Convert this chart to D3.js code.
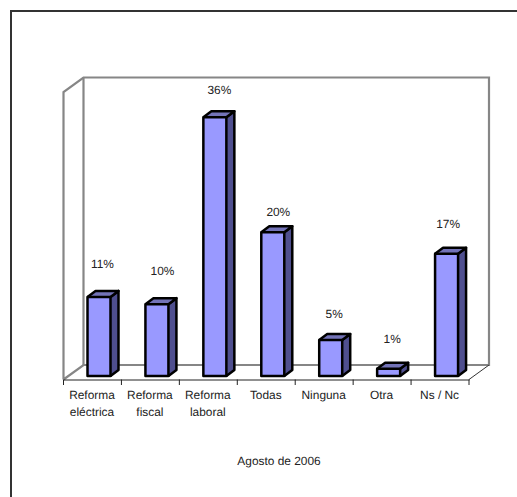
<!DOCTYPE html>
<html>
<head>
<meta charset="utf-8">
<script src="https://cdn.jsdelivr.net/npm/d3@7"></script>
<style>
  html, body { margin: 0; padding: 0; background: #fff; overflow: hidden; }
  svg { display: block; }
  text { font-family: "Liberation Sans", Arial, sans-serif; font-size: 11.9px; fill: #222; text-rendering: geometricPrecision; }
</style>
</head>
<body>
<svg id="chart" width="517" height="497"></svg>
<script>
const categories = ['Reforma eléctrica', 'Reforma fiscal', 'Reforma laboral', 'Todas', 'Ninguna', 'Otra', 'Ns / Nc'];
const values = [11, 10, 36, 20, 5, 1, 17];
const yDomain = [0, 40];
const caption = 'Agosto de 2006';

const svg = d3.select('#chart');

// front plane of the 3d box, the back wall is shifted by wallDx / wallDy
const margin = {left: 63.5, right: 469, floor: 379.5, top: 92};
const wallDx = 20, wallDy = -14.5;
const barDx = 8, barDy = -6;

const x = d3.scaleBand().domain(categories).range([margin.left, margin.right]).paddingInner(0).paddingOuter(0);
const y = d3.scaleLinear().domain(yDomain).range([margin.floor, margin.top]);
const barW = 23;

// data labels were dragged by hand in the original, so each has its own nudge
const labelNudgeX = [0, 2, 1, 2, 0, 0, -2];
const labelNudgeY = [-1, -1, 5, 12, 6, 2, 2];

// chart frame, right and bottom edges are cut off in the picture
svg.append('path')
  .attr('d', d3.line()([[11, 497], [11, 11], [517, 11]]))
  .attr('fill', 'none').attr('stroke', '#333').attr('stroke-width', 2);

// walls
const wall = d3.line()([
  [margin.left, margin.floor], [margin.left, margin.top], [margin.left + wallDx, margin.top + wallDy],
  [margin.right + wallDx, margin.top + wallDy], [margin.right + wallDx, margin.floor + wallDy],
  [margin.left + wallDx, margin.floor + wallDy], [margin.left, margin.floor]
]);
svg.append('path').attr('d', wall).attr('fill', '#fff').attr('stroke', '#868686').attr('stroke-width', 2.2);
svg.append('path')
  .attr('d', d3.line()([[margin.left + wallDx, margin.top + wallDy], [margin.left + wallDx, margin.floor + wallDy]]))
  .attr('fill', 'none').attr('stroke', '#868686').attr('stroke-width', 2.2);

// floor edge on the right
svg.append('path')
  .attr('d', d3.line()([[margin.right, margin.floor], [margin.right + wallDx, margin.floor + wallDy]]))
  .attr('fill', 'none').attr('stroke', '#333').attr('stroke-width', 1);

// category axis
const axis = svg.append('g').attr('transform', `translate(0,${margin.floor})`)
  .call(d3.axisBottom(x).tickSize(0).tickFormat(''));
axis.select('.domain').attr('stroke', '#222').attr('stroke-width', 1);
axis.selectAll('.tick').remove();
const edges = categories.map(c => x(c)).concat(margin.right);
axis.selectAll('line.edge').data(edges).join('line')
  .attr('class', 'edge')
  .attr('x1', d => d).attr('x2', d => d).attr('y1', 0).attr('y2', 5.5)
  .attr('stroke', '#222').attr('stroke-width', 1);

axis.selectAll('text.cat').data(categories).join('text')
  .attr('class', 'cat')
  .attr('text-anchor', 'middle')
  .attr('transform', d => `translate(${x(d) + x.bandwidth() / 2 - 0.5},19.5)`)
  .each(function(d) {
    const parts = d.startsWith('Reforma') ? d.split(' ') : [d];
    d3.select(this).selectAll('tspan').data(parts).join('tspan')
      .attr('x', 0).attr('dy', (p, i) => i ? 17 : 0).text(p => p);
  });

// bars
const floorY = -3.5; // bars stand a bit behind the front edge
const bars = svg.selectAll('g.bar').data(categories).join('g').attr('class', 'bar')
  .attr('transform', d => `translate(${x(d) + 24},${floorY})`);
const face = {stroke: '#000', 'stroke-width': 2.5, 'stroke-linejoin': 'round'};

function styled(sel, fill) {
  sel.attr('fill', fill);
  Object.entries(face).forEach(([k, v]) => sel.attr(k, v));
}

bars.append('path').call(styled, '#4f4f8f')
  .attr('d', (d, i) => d3.line()([
    [barW, y(values[i])], [barW + barDx, y(values[i]) + barDy],
    [barW + barDx, y(0) + barDy], [barW, y(0)]
  ]));
bars.append('path').call(styled, '#7373b8')
  .attr('d', (d, i) => d3.line()([
    [0, y(values[i])], [barDx, y(values[i]) + barDy],
    [barW + barDx, y(values[i]) + barDy], [barW, y(values[i])]
  ]));
bars.append('rect').call(styled, '#9999ff')
  .attr('x', 0).attr('width', barW)
  .attr('y', (d, i) => y(values[i]))
  .attr('height', (d, i) => y(0) - y(values[i]));

bars.append('text')
  .attr('text-anchor', 'middle')
  .attr('x', (d, i) => 15 + labelNudgeX[i])
  .attr('y', (d, i) => y(values[i]) - 28 + labelNudgeY[i])
  .text((d, i) => values[i] + '%');

svg.append('text').attr('x', 279).attr('y', 465).attr('text-anchor', 'middle').text(caption);
</script>
</body>
</html>
